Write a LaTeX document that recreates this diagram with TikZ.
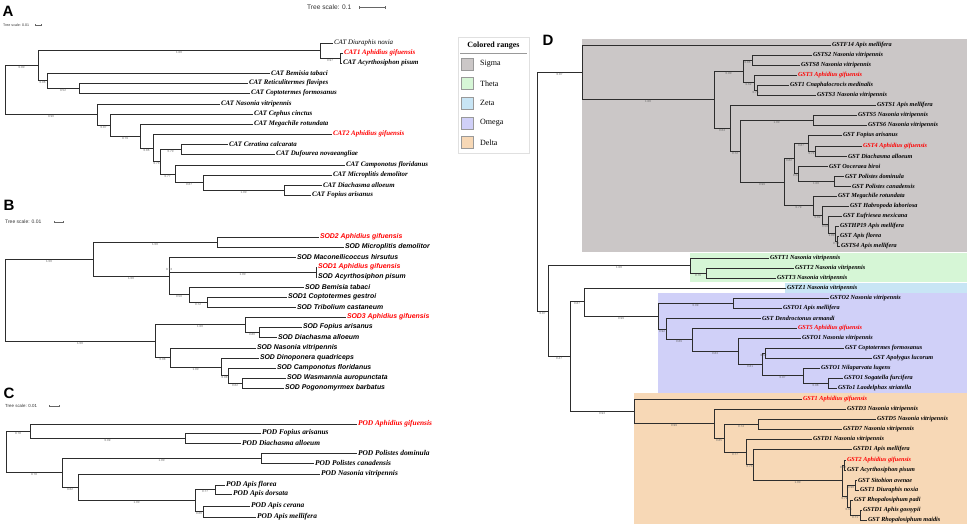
\documentclass[tikz,border=0pt]{standalone}
\usepackage{fontspec}
\setmainfont{Liberation Serif}
\setsansfont{Liberation Sans}
\definecolor{hired}{RGB}{255,0,0}
\definecolor{csig}{RGB}{203,199,199}
\definecolor{cthe}{RGB}{214,246,214}
\definecolor{czet}{RGB}{200,229,245}
\definecolor{come}{RGB}{208,208,248}
\definecolor{cdel}{RGB}{247,216,182}
\definecolor{brc}{RGB}{45,45,45}
\newcommand\cl[3]{\draw[br] (#1) |- node[bs,pos=0.75]{#3} (#2);}
\newcommand\lv[2]{\draw[br] (#1) |- (#2.west);}
\begin{document}
\begin{tikzpicture}[x=1pt,y=-1pt,
  br/.style={draw=brc,line width=0.85pt},
  lf/.style={anchor=west,inner sep=0.8pt,font=\fontsize{6.9}{7}\selectfont\bfseries\itshape},
  lfn/.style={anchor=west,inner sep=0.8pt,font=\fontsize{6.9}{7}\selectfont\itshape},
  lfB/.style={anchor=west,inner sep=0.8pt,font=\sffamily\fontsize{6.9}{7}\selectfont\bfseries\itshape},
  lfC/.style={anchor=west,inner sep=0.8pt,font=\fontsize{7.4}{8}\selectfont\bfseries\itshape},
  lfD/.style={anchor=west,inner sep=0.8pt,font=\fontsize{6.2}{7}\selectfont\bfseries\itshape},
  hl/.style={text=hired},
  bs/.style={font=\sffamily\fontsize{3}{3}\selectfont,text=black!60,inner sep=0.3pt,anchor=north,yshift=-0.4pt},
  plet/.style={font=\sffamily\bfseries\fontsize{15}{15}\selectfont,inner sep=0pt},
  tsc/.style={font=\sffamily\selectfont,anchor=west,inner sep=0pt,text=black!80},
  sw/.style={draw=black!40,line width=0.5pt,minimum size=12pt,inner sep=0pt},
  lgtx/.style={anchor=west,inner sep=0pt,font=\fontsize{8}{9}\selectfont}
]
\useasboundingbox (0,0) rectangle (970,528);
\fill[white] (0,0) rectangle (970,528);

% ---------- top scale ----------
\node[tsc,font=\sffamily\fontsize{6.6}{7}\selectfont] (tsD) at (307,7.5) {Tree scale: 0.1};
\draw[black!60,line width=0.5pt] (359,7.5) -- (385,7.5) (359,6) -- (359,9) (385,6) -- (385,9);

% ================= PANEL A =================
\node[plet] (LA) at (8,11) {A};
\node[tsc,font=\sffamily\fontsize{3.6}{4}\selectfont] (tsA) at (3,25) {Tree scale: 0.01};
\draw[black!60,line width=0.4pt] (35,25) -- (41,25) (35,24) -- (35,26) (41,24) -- (41,26);

\coordinate (rA) at (5,90);
\coordinate (a38) at (38,65.5);
\coordinate (a320) at (320,50.5);
\coordinate (a340) at (340,58);
\coordinate (a47) at (47,80.5);
\coordinate (a79) at (79,88);
\coordinate (a97) at (97,114.5);
\coordinate (a110) at (110,125);
\coordinate (a140) at (140,136);
\coordinate (a153) at (153,148);
\coordinate (a160) at (160,161.5);
\coordinate (a181) at (181,149);
\coordinate (a175) at (175,174);
\coordinate (a203) at (203,182.5);
\coordinate (a284) at (284,190);

\node[lfn] (A1) at (333,43) {CAT Diuraphis noxia};
\node[lf,hl] (A2) at (343,53) {CAT1 Aphidius gifuensis};
\node[lf] (A3) at (342,63) {CAT Acyrthosiphon pisum};
\node[lf] (A4) at (270,73) {CAT Bemisia tabaci};
\node[lf] (A5) at (248,83) {CAT Reticulitermes flavipes};
\node[lf] (A6) at (250,93) {CAT Coptotermes formosanus};
\node[lf] (A7) at (220,104) {CAT Nasonia vitripennis};
\node[lf] (A8) at (253,114) {CAT Cephus cinctus};
\node[lf] (A9) at (253,124) {CAT Megachile rotundata};
\node[lf,hl] (A10) at (332,134) {CAT2 Aphidius gifuensis};
\node[lf] (A11) at (228,144) {CAT Ceratina calcarata};
\node[lf] (A12) at (275,154) {CAT Dufourea novaeangliae};
\node[lf] (A13) at (345,165) {CAT Camponotus floridanus};
\node[lf] (A14) at (332,175) {CAT Microplitis demolitor};
\node[lf] (A15) at (322,185) {CAT Diachasma alloeum};
\node[lf] (A16) at (311,195) {CAT Fopius arisanus};

\cl{rA}{a38}{0.90}
\cl{rA}{a97}{0.90}
\cl{a38}{a320}{1.00}
\cl{a38}{a47}{0.96}
\lv{a320}{A1}
\cl{a320}{a340}{0.97}
\lv{a340}{A2}\lv{a340}{A3}
\lv{a47}{A4}
\cl{a47}{a79}{0.52}
\lv{a79}{A5}\lv{a79}{A6}
\lv{a97}{A7}
\cl{a97}{a110}{0.87}
\lv{a110}{A8}
\cl{a110}{a140}{0.79}
\lv{a140}{A9}
\cl{a140}{a153}{0.86}
\lv{a153}{A10}
\cl{a153}{a160}{0.73}
\cl{a160}{a181}{0.70}
\cl{a160}{a175}{0.77}
\lv{a181}{A11}\lv{a181}{A12}
\lv{a175}{A13}
\cl{a175}{a203}{0.67}
\lv{a203}{A14}
\cl{a203}{a284}{1.00}
\lv{a284}{A15}\lv{a284}{A16}

% ================= PANEL B =================
\node[plet] (LB) at (9,205) {B};
\node[tsc,font=\sffamily\fontsize{5}{6}\selectfont] (tsB) at (5,222) {Tree scale: 0.01};
\draw[black!60,line width=0.4pt] (54,222) -- (63,222) (54,221) -- (54,223) (63,221) -- (63,223);

\coordinate (rB) at (5,300);
\coordinate (b93) at (93,259);
\coordinate (b217) at (217,242);
\coordinate (b169) at (169,276);
\coordinate (b316) at (316,272);
\coordinate (b189) at (189,294.5);
\coordinate (b207) at (207,302);
\coordinate (b155) at (155,341);
\coordinate (b245) at (245,324.5);
\coordinate (b259) at (259,332);
\coordinate (b170) at (170,357.5);
\coordinate (b221) at (221,367);
\coordinate (b228) at (228,375.5);
\coordinate (b242) at (242,383);

\node[lfB,hl] (B1) at (319,237) {SOD2 Aphidius gifuensis};
\node[lfB] (B2) at (344,247) {SOD Microplitis demolitor};
\node[lfB] (B3) at (296,257) {SOD Maconellicoccus hirsutus};
\node[lfB,hl] (B4) at (317,267) {SOD1 Aphidius gifuensis};
\node[lfB] (B5) at (317,277) {SOD Acyrthosiphon pisum};
\node[lfB] (B6) at (304,287) {SOD Bemisia tabaci};
\node[lfB] (B7) at (287,297) {SOD1 Coptotermes gestroi};
\node[lfB] (B8) at (296,307) {SOD Tribolium castaneum};
\node[lfB,hl] (B9) at (346,317) {SOD3 Aphidius gifuensis};
\node[lfB] (B10) at (302,327) {SOD Fopius arisanus};
\node[lfB] (B11) at (277,337) {SOD Diachasma alloeum};
\node[lfB] (B12) at (256,348) {SOD Nasonia vitripennis};
\node[lfB] (B13) at (259,358) {SOD Dinoponera quadriceps};
\node[lfB] (B14) at (276,368) {SOD Camponotus floridanus};
\node[lfB] (B15) at (286,378) {SOD Wasmannia auropunctata};
\node[lfB] (B16) at (284,388) {SOD Pogonomyrmex barbatus};

\cl{rB}{b93}{1.00}
\cl{rB}{b155}{1.00}
\cl{b93}{b217}{1.00}
\cl{b93}{b169}{1.00}
\lv{b217}{B1}\lv{b217}{B2}
\lv{b169}{B3}
\cl{b169}{b316}{1.00}
\cl{b169}{b189}{0.50}
\node[bs,anchor=south] (bB73) at (169,271) {0.73};
\lv{b316}{B4}\lv{b316}{B5}
\lv{b189}{B6}
\cl{b189}{b207}{0.72}
\lv{b207}{B7}\lv{b207}{B8}
\cl{b155}{b245}{1.00}
\cl{b155}{b170}{0.98}
\lv{b245}{B9}
\cl{b245}{b259}{0.80}
\lv{b259}{B10}\lv{b259}{B11}
\lv{b170}{B12}
\cl{b170}{b221}{1.00}
\lv{b221}{B13}
\cl{b221}{b228}{0.98}
\lv{b228}{B14}
\cl{b228}{b242}{0.62}
\lv{b242}{B15}\lv{b242}{B16}

% ================= PANEL C =================
\node[plet] (LC) at (9,393) {C};
\node[tsc,font=\sffamily\fontsize{4.4}{5}\selectfont] (tsC) at (5,406) {Tree scale: 0.01};
\draw[black!60,line width=0.4pt] (49,406) -- (59,406) (49,405) -- (49,407) (59,405) -- (59,407);

\coordinate (rC) at (6,451.75);
\coordinate (c30) at (30,431);
\coordinate (c185) at (185,438);
\coordinate (c62) at (62,472.5);
\coordinate (c261) at (261,458);
\coordinate (c78) at (78,487);
\coordinate (c195) at (195,500.5);
\coordinate (c215) at (215,489.5);
\coordinate (c203) at (203,511.5);

\node[lfC,hl] (C1) at (357,424) {POD Aphidius gifuensis};
\node[lfC] (C2) at (261,433) {POD Fopius arisanus};
\node[lfC] (C3) at (241,443) {POD Diachasma alloeum};
\node[lfC] (C4) at (357,453) {POD Polistes dominula};
\node[lfC] (C5) at (314,463) {POD Polistes canadensis};
\node[lfC] (C6) at (320,474) {POD Nasonia vitripennis};
\node[lfC] (C7) at (225,485) {POD Apis florea};
\node[lfC] (C8) at (232,494) {POD Apis dorsata};
\node[lfC] (C9) at (250,506) {POD Apis cerana};
\node[lfC] (C10) at (256,517) {POD Apis mellifera};

\cl{rC}{c30}{0.78}
\cl{rC}{c62}{0.78}
\lv{c30}{C1}
\cl{c30}{c185}{0.99}
\lv{c185}{C2}\lv{c185}{C3}
\cl{c62}{c261}{1.00}
\cl{c62}{c78}{0.82}
\lv{c261}{C4}\lv{c261}{C5}
\lv{c78}{C6}
\cl{c78}{c195}{1.00}
\cl{c195}{c215}{0.77}
\cl{c195}{c203}{0.66}
\lv{c215}{C7}\lv{c215}{C8}
\lv{c203}{C9}\lv{c203}{C10}

% ================= LEGEND =================
\draw[draw=black!12,fill=white,line width=0.5pt] (458,37) rectangle (529,153);
\node[font=\bfseries\fontsize{8}{9}\selectfont,inner sep=0pt] (lgt) at (493.5,45.5) {Colored ranges};
\draw[black!40,line width=0.9pt] (460,53) -- (527,53);
\node[sw,fill=csig] (s1) at (467,64) {};
\node[sw,fill=cthe] (s2) at (467,83.5) {};
\node[sw,fill=czet] (s3) at (467,103) {};
\node[sw,fill=come] (s4) at (467,123) {};
\node[sw,fill=cdel] (s5) at (467,142.5) {};
\node[lgtx] (t1) at (480,64) {Sigma};
\node[lgtx] (t2) at (480,83.5) {Theta};
\node[lgtx] (t3) at (480,103) {Zeta};
\node[lgtx] (t4) at (480,123) {Omega};
\node[lgtx] (t5) at (480,142.5) {Delta};

% ================= PANEL D =================
\node[plet] (LD) at (548,40) {D};
\fill[csig] (582,39) rectangle (967,252);
\fill[cthe] (690,253) rectangle (967,282);
\fill[czet] (785,283) rectangle (967,293);
\fill[come] (658,293) rectangle (967,393);
\fill[cdel] (634,393) rectangle (967,524);

\coordinate (rD) at (537,311);
\coordinate (dS) at (582,72.3);
\coordinate (d714) at (714,99.6);
\coordinate (d743) at (743,71.25);
\coordinate (d752) at (752,60);
\coordinate (d754) at (754,82.5);
\coordinate (d757) at (757,90);
\coordinate (d730) at (730,128);
\coordinate (d740) at (740,151);
\coordinate (d813a) at (813,120);
\coordinate (d784) at (784,182);
\coordinate (d794) at (794,158.4);
\coordinate (d808) at (808,143.25);
\coordinate (d815) at (815,151);
\coordinate (d798) at (798,173.5);
\coordinate (d834) at (834,181);
\coordinate (d813b) at (813,205.7);
\coordinate (d822) at (822,215.4);
\coordinate (d828) at (828,224.75);
\coordinate (d835) at (835,233.5);
\coordinate (d836) at (837,241);
\coordinate (d548) at (548,311);
\coordinate (d690) at (690,265.5);
\coordinate (d706) at (706,273);
\coordinate (d570) at (570,356);
\coordinate (d584) at (584,301.5);
\coordinate (d658) at (658,316);
\coordinate (d733) at (733,303);
\coordinate (d666) at (666,329);
\coordinate (d692) at (692,339.5);
\coordinate (d738) at (738,351);
\coordinate (d762) at (762,364);
\coordinate (d765) at (765,353);
\coordinate (d803) at (803,375.5);
\coordinate (d828o) at (828,383);
\coordinate (d634) at (634,411.25);
\coordinate (d714d) at (714,423.5);
\coordinate (d724) at (724,438);
\coordinate (d758) at (758,424);
\coordinate (d746) at (746,452);
\coordinate (d753) at (753,464.75);
\coordinate (d842) at (842,480.5);
\coordinate (d844) at (844,465);
\coordinate (d847) at (847,496);
\coordinate (d855) at (855,485);
\coordinate (d850) at (850,507.5);
\coordinate (d860) at (860,515);

\node[lfD] (D1) at (831,45) {GSTF14 Apis mellifera};
\node[lfD] (D2) at (812,55) {GSTS2 Nasonia vitripennis};
\node[lfD] (D3) at (800,65) {GSTS8 Nasonia vitripennis};
\node[lfD,hl] (D4) at (797,75) {GST3 Aphidius gifuensis};
\node[lfD] (D5) at (789,85) {GST1 Cnaphalocrocis medinalis};
\node[lfD] (D6) at (816,95) {GSTS3 Nasonia vitripennis};
\node[lfD] (D7) at (876,105) {GSTS1 Apis mellifera};
\node[lfD] (D8) at (857,115) {GSTS5 Nasonia vitripennis};
\node[lfD] (D9) at (867,125) {GSTS6 Nasonia vitripennis};
\node[lfD] (D10) at (842,135.5) {GST Fopius arisanus};
\node[lfD,hl] (D11) at (862,146) {GST4 Aphidius gifuensis};
\node[lfD] (D12) at (847,156) {GST Diachasma alloeum};
\node[lfD] (D13) at (828,166) {GST Ooceraea biroi};
\node[lfD] (D14) at (844,176) {GST Polistes dominula};
\node[lfD] (D15) at (851,186) {GST Polistes canadensis};
\node[lfD] (D16) at (837,196) {GST Megachile rotundata};
\node[lfD] (D17) at (849,206) {GST Habropoda laboriosa};
\node[lfD] (D18) at (842,216) {GST Eufriesea mexicana};
\node[lfD] (D19) at (839,226) {GSTHP19 Apis mellifera};
\node[lfD] (D20) at (839,236) {GST Apis florea};
\node[lfD] (D21) at (840,246) {GSTS4 Apis mellifera};
\node[lfD] (D22) at (769,258) {GSTT1 Nasonia vitripennis};
\node[lfD] (D23) at (794,268) {GSTT2 Nasonia vitripennis};
\node[lfD] (D24) at (776,278) {GSTT3 Nasonia vitripennis};
\node[lfD] (D25) at (786,288) {GSTZ1 Nasonia vitripennis};
\node[lfD] (D26) at (829,298) {GSTO2 Nasonia vitripennis};
\node[lfD] (D27) at (782,308) {GSTO1 Apis mellifera};
\node[lfD] (D28) at (761,318) {GST Dendroctonus armandi};
\node[lfD,hl] (D29) at (797,328) {GST5 Aphidius gifuensis};
\node[lfD] (D30) at (801,338) {GSTO1 Nasonia vitripennis};
\node[lfD] (D31) at (844,348) {GST Coptotermes formosanus};
\node[lfD] (D32) at (872,358) {GST Apolygus lucorum};
\node[lfD] (D33) at (820,368) {GSTO1 Nilaparvata lugens};
\node[lfD] (D34) at (843,378) {GSTO1 Sogatella furcifera};
\node[lfD] (D35) at (837,388) {GSTo1 Laodelphax striatella};
\node[lfD,hl] (D36) at (802,399) {GST1 Aphidius gifuensis};
\node[lfD] (D37) at (846,409) {GSTD3 Nasonia vitripennis};
\node[lfD] (D38) at (876,419) {GSTD5 Nasonia vitripennis};
\node[lfD] (D39) at (842,429) {GSTD7 Nasonia vitripennis};
\node[lfD] (D40) at (812,439) {GSTD1 Nasonia vitripennis};
\node[lfD] (D41) at (852,449) {GSTD1 Apis mellifera};
\node[lfD,hl] (D42) at (846,460) {GST2 Aphidius gifuensis};
\node[lfD] (D43) at (846,470) {GST Acyrthosiphon pisum};
\node[lfD] (D44) at (857,480) {GST Sitobion avenae};
\node[lfD] (D45) at (859,490) {GST1 Diuraphis noxia};
\node[lfD] (D46) at (853,500) {GST Rhopalosiphum padi};
\node[lfD] (D47) at (862,510) {GSTD1 Aphis gossypii};
\node[lfD] (D48) at (867,520) {GST Rhopalosiphum maidis};

\cl{rD}{dS}{0.87}
\cl{rD}{d548}{0.87}
\lv{dS}{D1}
\cl{dS}{d714}{1.00}
\cl{d714}{d743}{0.90}
\cl{d714}{d730}{0.64}
\cl{d743}{d752}{0.86}
\cl{d743}{d754}{0.62}
\lv{d752}{D2}\lv{d752}{D3}
\lv{d754}{D4}
\cl{d754}{d757}{0.75}
\lv{d757}{D5}\lv{d757}{D6}
\lv{d730}{D7}
\cl{d730}{d740}{0.72}
\cl{d740}{d813a}{1.00}
\cl{d740}{d784}{0.99}
\lv{d813a}{D8}\lv{d813a}{D9}
\cl{d784}{d794}{0.82}
\cl{d784}{d813b}{0.79}
\cl{d794}{d808}{0.87}
\cl{d794}{d798}{0.54}
\lv{d808}{D10}
\cl{d808}{d815}{0.74}
\lv{d815}{D11}\lv{d815}{D12}
\lv{d798}{D13}
\cl{d798}{d834}{1.00}
\lv{d834}{D14}\lv{d834}{D15}
\lv{d813b}{D16}
\cl{d813b}{d822}{0.82}
\lv{d822}{D17}
\cl{d822}{d828}{0.58}
\lv{d828}{D18}
\cl{d828}{d835}{1.00}
\lv{d835}{D19}
\cl{d835}{d836}{0.73}
\lv{d836}{D20}\lv{d836}{D21}
\cl{d548}{d690}{1.00}
\cl{d548}{d570}{0.47}
\lv{d690}{D22}
\cl{d690}{d706}{0.76}
\lv{d706}{D23}\lv{d706}{D24}
\cl{d570}{d584}{0.87}
\cl{d570}{d634}{0.93}
\lv{d584}{D25}
\cl{d584}{d658}{0.99}
\cl{d658}{d733}{0.99}
\cl{d658}{d666}{0.92}
\lv{d733}{D26}\lv{d733}{D27}
\lv{d666}{D28}
\cl{d666}{d692}{0.89}
\lv{d692}{D29}
\cl{d692}{d738}{0.83}
\lv{d738}{D30}
\cl{d738}{d762}{0.81}
\cl{d762}{d765}{0.52}
\cl{d762}{d803}{0.97}
\lv{d765}{D31}\lv{d765}{D32}
\lv{d803}{D33}
\cl{d803}{d828o}{0.98}
\lv{d828o}{D34}\lv{d828o}{D35}
\lv{d634}{D36}
\cl{d634}{d714d}{0.99}
\lv{d714d}{D37}
\cl{d714d}{d724}{0.85}
\cl{d724}{d758}{0.74}
\cl{d724}{d746}{0.77}
\lv{d758}{D38}\lv{d758}{D39}
\lv{d746}{D40}
\cl{d746}{d753}{0.73}
\lv{d753}{D41}
\cl{d753}{d842}{1.00}
\cl{d842}{d844}{0.62}
\cl{d842}{d847}{0.79}
\lv{d844}{D42}\lv{d844}{D43}
\cl{d847}{d855}{0.96}
\cl{d847}{d850}{0.63}
\lv{d855}{D44}\lv{d855}{D45}
\lv{d850}{D46}
\cl{d850}{d860}{0.71}
\lv{d860}{D47}\lv{d860}{D48}
\end{tikzpicture}
\end{document}
